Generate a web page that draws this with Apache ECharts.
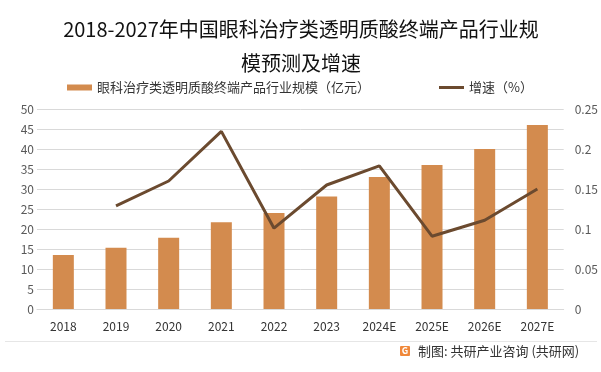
<!DOCTYPE html>
<html><head><meta charset="utf-8">
<script src="https://cdn.jsdelivr.net/npm/echarts@6/dist/echarts.min.js"></script>
<style>html,body{margin:0;padding:0;background:#fff}#c{width:601px;height:372px}</style>
</head><body><div id="c"></div>
<script>
const categories = ['2018','2019','2020','2021','2022','2023','2024E','2025E','2026E','2027E'];
const scaleValues = [13.5, 15.3, 17.8, 21.7, 24.0, 28.1, 33.0, 36.0, 40.0, 46.0];
const growthValues = [null, 0.129, 0.160, 0.222, 0.101, 0.155, 0.179, 0.091, 0.111, 0.150];
const titleText = '2018-2027年中国眼科治疗类透明质酸终端产品行业规\n模预测及增速';
const barName = '眼科治疗类透明质酸终端产品行业规模（亿元）';
const lineName = '增速（%）';
const sourceText = '制图: 共研产业咨询 (共研网)';

const FONT = '"Noto Sans CJK SC", "Noto Sans", sans-serif';
const chart = echarts.init(document.getElementById('c'));
chart.setOption({
  backgroundColor: '#fff',
  animation: false,
  textStyle: {fontFamily: FONT},
  title: {
    text: titleText, left: 296, top: 7, textAlign: 'center',
    textStyle: {fontSize: 20, fontWeight: 'normal', color: '#111', lineHeight: 34, fontFamily: FONT}
  },
  legend: [
    {top: 76, left: 62, itemWidth: 25, itemHeight: 6, itemGap: 4,
     textStyle: {fontSize: 13, color: '#333', fontFamily: FONT},
     data: [{name: barName, icon: 'rect'}]},
    {top: 76, left: 434, itemWidth: 25, itemHeight: 3, itemGap: 4,
     textStyle: {fontSize: 13, color: '#333', fontFamily: FONT},
     data: [{name: lineName, icon: 'rect', itemStyle: {color: '#6B4A2F'}}]}
  ],
  grid: {left: 37, right: 37, top: 109, bottom: 63},
  xAxis: {
    type: 'category', data: categories,
    axisLine: {lineStyle: {color: '#d9d9d9'}},
    axisTick: {show: false},
    axisLabel: {color: '#333', fontSize: 12, margin: 11, fontFamily: FONT}
  },
  yAxis: [
    {type: 'value', min: 0, max: 50, interval: 5,
     axisLabel: {color: '#595959', fontSize: 12, margin: 3, fontFamily: FONT},
     splitLine: {lineStyle: {color: '#d9d9d9'}}, axisLine: {show: false}, axisTick: {show: false}},
    {type: 'value', min: 0, max: 0.25, interval: 0.05,
     axisLabel: {color: '#595959', fontSize: 12, margin: 11, fontFamily: FONT},
     splitLine: {show: false}, axisLine: {show: false}, axisTick: {show: false}}
  ],
  series: [
    {name: barName, type: 'bar', data: scaleValues, barWidth: 21,
     itemStyle: {color: '#D38B4E'}},
    {name: lineName, type: 'line', yAxisIndex: 1, data: growthValues,
     symbol: 'none', lineStyle: {color: '#6B4A2F', width: 3}, itemStyle: {color: '#6B4A2F'}}
  ],
  graphic: [
    {type: 'line', shape: {x1: 5, y1: 341.5, x2: 597, y2: 341.5}, style: {stroke: '#e6e6e6', lineWidth: 1}},
    {type: 'rect', shape: {x: 400, y: 346, width: 10, height: 10, r: 1}, style: {fill: '#F0883A'}},
    {type: 'text', x: 405, y: 351, style: {text: 'G', fill: '#fff', fontSize: 9, fontWeight: 'bold', align: 'center', verticalAlign: 'middle', fontFamily: FONT}},
    {type: 'text', x: 418, y: 351, style: {text: sourceText, fill: '#333', fontSize: 13, verticalAlign: 'middle', fontFamily: FONT}}
  ]
});
</script></body></html>
